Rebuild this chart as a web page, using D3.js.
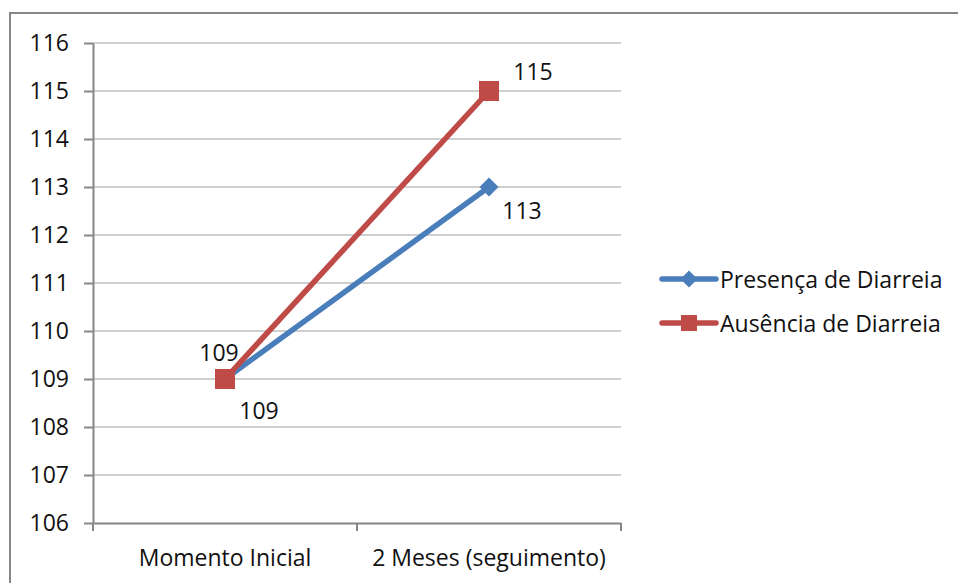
<!DOCTYPE html>
<html>
<head>
<meta charset="utf-8">
<script src="https://cdn.jsdelivr.net/npm/d3@7"></script>
<style>
  body { margin: 0; background: #fff; }
  text { font-family: "Open Sans", "Noto Sans", sans-serif; fill: #111; }
</style>
</head>
<body>
<div class="g-chart"></div>
<script>
//Local data
var categories = ["Momento Inicial", "2 Meses (seguimento)"];
var seriesNames = ["Presença de Diarreia", "Ausência de Diarreia"];
var presenca = [109, 113];
var ausencia = [109, 115];
var yTicks = [106, 107, 108, 109, 110, 111, 112, 113, 114, 115, 116];

var colors = ["#4a7ebb", "#be4b48"];

var width = 958, height = 583;
var margin = {top: 43, left: 93, right: 337, bottom: 60};
var fontSize = "23px";

var svg = d3.select(".g-chart").append("svg")
  .attr("width", width)
  .attr("height", height);

//Outer border
svg.append("rect")
  .attr("x", 10).attr("y", 13)
  .attr("width", width).attr("height", height)
  .attr("fill", "none")
  .attr("stroke", "#868686")
  .attr("stroke-width", 2);

var x = d3.scaleBand()
  .domain(categories)
  .range([margin.left, width - margin.right]);

var y = d3.scaleLinear()
  .domain([106, 116])
  .range([height - margin.bottom, margin.top]);

//Gridlines
svg.append("g")
  .selectAll("line")
  .data(yTicks.slice(1))
  .enter().append("line")
  .attr("x1", margin.left).attr("x2", width - margin.right)
  .attr("y1", function(d) { return y(d); })
  .attr("y2", function(d) { return y(d); })
  .attr("stroke", "#bfbfbf")
  .attr("stroke-width", 1.5);

//Y axis
var yAxis = svg.append("g")
  .attr("transform", "translate(" + margin.left + ",0)")
  .call(d3.axisLeft(y).tickValues(yTicks).tickSize(9).tickPadding(15).tickSizeOuter(0));

//X axis
var xAxis = svg.append("g")
  .attr("transform", "translate(0," + (height - margin.bottom) + ")")
  .call(d3.axisBottom(x).tickSize(0).tickPadding(27));

[yAxis, xAxis].forEach(function(g) {
  g.select(".domain").attr("stroke", "#868686").attr("stroke-width", 2);
  g.selectAll(".tick line").attr("stroke", "#868686").attr("stroke-width", 2);
  g.selectAll("text").style("font-size", fontSize).attr("fill", "#111");
});

//X category boundary ticks
var xTickPos = [margin.left, margin.left + x.bandwidth(), width - margin.right];
svg.append("g")
  .selectAll("line")
  .data(xTickPos)
  .enter().append("line")
  .attr("x1", function(d) { return d; }).attr("x2", function(d) { return d; })
  .attr("y1", height - margin.bottom).attr("y2", height - margin.bottom + 8)
  .attr("stroke", "#868686").attr("stroke-width", 2);

var cx = function(i) { return x(categories[i]) + x.bandwidth() / 2; };

var line = d3.line()
  .x(function(d, i) { return cx(i); })
  .y(function(d) { return y(d); });

var series = [presenca, ausencia];

//Lines
series.forEach(function(s, k) {
  svg.append("path")
    .datum(s)
    .attr("d", line)
    .attr("fill", "none")
    .attr("stroke", colors[k])
    .attr("stroke-width", 5.5)
    .attr("stroke-linecap", "round");
});

//Markers
function marker(g, k, px, py, size) {
  var h = size / 2;
  if (k === 0) {
    g.append("path")
      .attr("d", "M0," + (-h) + "L" + h + ",0L0," + h + "L" + (-h) + ",0Z")
      .attr("transform", "translate(" + px + "," + py + ")")
      .attr("fill", colors[k]);
  } else {
    g.append("rect")
      .attr("x", px - h).attr("y", py - h)
      .attr("width", size).attr("height", size)
      .attr("fill", colors[k]);
  }
}

series.forEach(function(s, k) {
  s.forEach(function(d, i) {
    marker(svg, k, cx(i), y(d), k === 0 ? 19 : 20);
  });
});

//Data labels
var labelOffsets = [
  [[34, 31], [33, 23]],
  [[-6, -27], [44, -20]]
];
series.forEach(function(s, k) {
  s.forEach(function(d, i) {
    svg.append("text")
      .attr("x", cx(i) + labelOffsets[k][i][0])
      .attr("y", y(d) + labelOffsets[k][i][1])
      .attr("text-anchor", "middle")
      .attr("dominant-baseline", "central")
      .style("font-size", fontSize)
      .text(d);
  });
});

//Legend
var legend = svg.append("g");
seriesNames.forEach(function(name, k) {
  var ly = 279 + k * 44;
  legend.append("line")
    .attr("x1", 662).attr("x2", 716)
    .attr("y1", ly).attr("y2", ly)
    .attr("stroke", colors[k])
    .attr("stroke-width", 5.5)
    .attr("stroke-linecap", "round");
  marker(legend, k, 689, ly, k === 0 ? 17 : 16);
  legend.append("text")
    .attr("x", 720).attr("y", ly)
    .attr("dominant-baseline", "central")
    .style("font-size", fontSize)
    .text(name);
});
</script>
</body>
</html>
